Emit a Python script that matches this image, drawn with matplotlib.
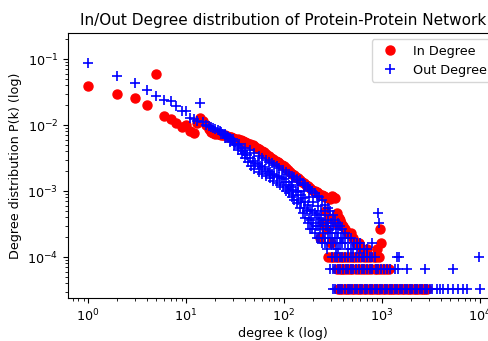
import matplotlib
matplotlib.use("Agg")
import matplotlib.pyplot as plt
import numpy as np

N_NODES = 30500

# ---- In degree: (k, number of nodes with that degree) ----
in_k = [1, 2, 3, 4, 5, 6, 7, 8, 9, 10, 11, 12, 13, 14, 15, 16, 17, 18, 19, 20,
        21, 22, 23, 24, 25, 26, 27, 28, 29, 30, 32, 34, 36, 38, 40, 42, 45, 48, 50, 53,
        56, 60, 63, 66, 70, 74, 78, 82, 86, 90, 95, 100, 105, 110, 115, 120, 126, 132, 138, 145,
        152, 160, 168, 176, 185, 195, 205, 215, 225, 235, 245, 255, 265, 280, 295, 310, 320, 335, 350, 365,
        380, 400, 420, 450, 480, 510, 540, 580, 620, 700, 880, 950, 980,
        232, 250, 270, 290, 300, 340, 260, 370]
in_c = [1190, 885, 793, 610, 1800, 418, 372, 323, 287, 305, 245, 232, 330, 384, 350, 300, 265, 240, 228, 225,
        224, 222, 218, 215, 212, 208, 204, 200, 198, 196, 190, 184, 178, 172, 168, 164, 158, 150, 145, 138,
        130, 124, 118, 112, 105, 98, 92, 88, 84, 80, 75, 72, 67, 63, 60, 56, 53, 50, 48, 45,
        42, 40, 38, 36, 34, 32, 30, 29, 28, 27, 27, 26, 25, 24, 23, 26, 25, 24, 14, 12,
        10, 9, 8, 7, 7, 6, 5, 5, 4, 4, 4, 8, 5,
        6, 10, 8, 12, 5, 10, 15, 11]
in_k3 = [280, 300, 320, 340, 360, 380, 400, 430, 460, 490, 520, 560, 600, 650, 700, 760, 820, 870, 930]
in_k2 = [350, 370, 390, 410, 440, 470, 500, 540, 580, 620, 670, 720, 780, 840, 900, 960, 1030, 1100, 1180]
in_k1 = [355, 375, 395, 415, 440, 465, 490, 520, 550, 580, 615, 650, 690, 730, 770, 815, 860, 910, 960, 1020,
         1080, 1140, 1200, 1270, 1340, 1420, 1500, 1590, 1680, 1780, 1880, 1990, 2100, 2220, 2350, 2480, 2620, 2770, 2900]

# ---- Out degree: (k, number of nodes with that degree) ----
out_k = [1, 2, 3, 4, 5, 6, 7, 8, 9, 10, 11, 12, 13, 14, 15, 16, 17, 18, 19, 20,
         21, 22, 23, 24, 25, 26, 27, 28, 29, 30, 32, 34, 36, 38, 40, 42, 45, 48, 51, 54,
         57, 60, 64, 68, 72, 76, 80, 85, 90, 95, 100, 106, 112, 118, 125, 132, 140, 148, 156, 165,
         174, 184, 194, 205, 216, 228, 240, 253, 267, 281, 296, 312, 330, 350, 372, 395, 420, 450, 480, 510,
         550, 600, 790, 903, 925]
out_c = [2620, 1680, 1340, 1040, 840, 723, 714, 586, 503, 497, 384, 372, 354, 653, 340, 310, 295, 282, 275, 262,
         252, 245, 236, 225, 215, 208, 200, 192, 184, 175, 160, 148, 136, 124, 115, 106, 96, 88, 82, 78,
         74, 70, 66, 62, 59, 56, 54, 52, 50, 48, 46, 42, 38, 35, 32, 30, 29, 27, 24, 21,
         19, 16, 15, 14, 13, 12, 11, 10, 9, 8, 7, 7, 6, 6, 5, 5, 5, 4, 4, 4,
         4, 4, 5, 14, 10]
out_up_k = [25, 30, 35, 40, 45, 50, 55, 60, 65, 70, 75, 80, 85, 90, 98, 105, 112, 120, 128, 136,
            146, 155, 165, 175, 184, 195, 207, 218, 230, 245, 260, 280, 295, 315, 335, 355, 372, 395, 420, 450,
            480, 520, 560, 600, 650, 700]
out_up_c = [225, 185, 155, 135, 128, 115, 105, 96, 90, 84, 80, 76, 72, 68, 64, 60, 56, 52, 50, 47,
            45, 40, 37, 35, 33, 30, 28, 26, 25, 22, 19, 17, 15, 13, 11, 10, 9, 8, 7, 6,
            6, 5, 5, 5, 4, 4]
out_lo_k = [25, 28, 31, 34, 37, 40, 43, 46, 50, 55, 60, 66, 72, 78, 85, 92, 98, 105, 112, 120,
            128, 136, 146, 155, 165, 175, 184, 195, 207, 218, 230, 245, 260, 275]
out_lo_c = [192, 170, 150, 128, 112, 96, 84, 74, 66, 60, 56, 52, 48, 44, 40, 37, 35, 31, 28, 25,
            22, 20, 17, 14, 12, 10, 8, 8, 7, 6, 6, 5, 5, 4]
out_lm_k = [110, 125, 140, 150, 160, 170, 180, 190, 200, 210, 220, 235, 250, 265, 280, 300, 320, 340, 360]
out_lm_c = [33, 27, 22, 21, 17, 15, 12, 11, 10, 9, 9, 8, 7, 6, 6, 5, 5, 4, 4]
out_um_k = [120, 140, 160, 180, 200, 220, 240, 260, 280, 300, 320, 340, 360, 380, 400]
out_um_c = [42, 37, 30, 25, 21, 18, 15, 13, 11, 10, 9, 8, 7, 6, 6]
out_k3 = [310, 330, 350, 370, 395, 420, 450, 480, 510, 545, 580, 620, 660, 700, 750, 800, 850, 1410, 1480, 9840]
out_k2 = [295, 315, 335, 355, 375, 400, 425, 450, 480, 510, 545, 580, 620, 660, 700, 750, 800, 860, 920, 980,
          1050, 1120, 1200, 1360, 1470, 1790, 2750, 5340]
out_k1 = [316, 335, 355, 375, 395, 420, 445, 470, 500, 530, 560, 595, 630, 670, 710, 750, 795, 845, 895, 950,
          1010, 1070, 1130, 1200, 1270, 1350, 1430, 1520, 1610, 1710, 1810, 1920, 2040, 2160, 2290, 2430, 2580, 2740, 2900, 3100,
          3210, 3620, 3900, 4190, 4710, 5300, 5970, 6710, 7370, 10000]

# assemble
in_k_all = np.array(in_k + in_k3 + in_k2 + in_k1, dtype=float)
in_c_all = np.array(in_c + [3] * len(in_k3) + [2] * len(in_k2) + [1] * len(in_k1), dtype=float)
out_k_all = np.array(out_k + out_up_k + out_lo_k + out_lm_k + out_um_k + out_k3 + out_k2 + out_k1, dtype=float)
out_c_all = np.array(out_c + out_up_c + out_lo_c + out_lm_c + out_um_c
                     + [3] * len(out_k3) + [2] * len(out_k2) + [1] * len(out_k1), dtype=float)

in_p = in_c_all / N_NODES
out_p = out_c_all / N_NODES

W, H = 489, 341
fig = plt.figure(figsize=(W / 100, H / 100), dpi=100)
ax = fig.add_axes([68 / W, 1 - 298 / H, (498 - 68) / W, (298 - 33) / H])

ax.loglog(in_k_all, in_p, 'ro', markersize=6.5, label='In Degree')
ax.loglog(out_k_all, out_p, 'b+', markersize=7, markeredgewidth=1.2, label='Out Degree')

ax.set_xlim(10 ** -0.204, 10 ** 4.184)
ax.set_ylim(10 ** -4.621, 10 ** -0.606)

fs = 9.2
ax.set_title('In/Out Degree distribution of Protein-Protein Network', fontsize=11)
ax.set_xlabel('degree k (log)', fontsize=fs, labelpad=2)
ax.set_ylabel('Degree distribution P(k) (log)', fontsize=fs)
ax.tick_params(labelsize=fs)
ax.legend(loc='upper right', fontsize=fs)

fig.savefig('out.png', dpi=100)
